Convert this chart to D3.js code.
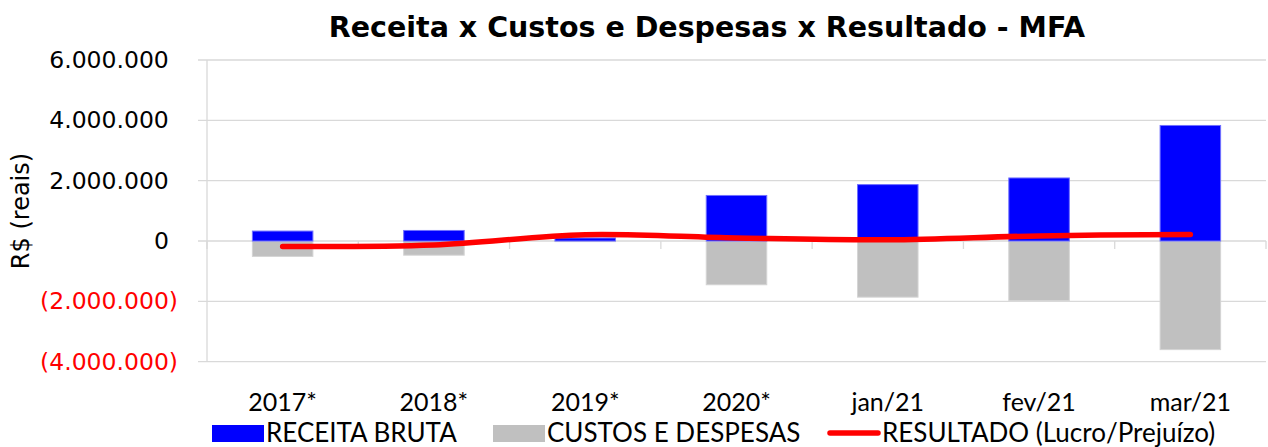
<!DOCTYPE html>
<html>
<head>
<meta charset="utf-8">
<script src="https://cdn.jsdelivr.net/npm/d3@7"></script>
<style>
  body { margin: 0; background: #fff; }
  svg { display: block; }
</style>
</head>
<body>
<script>
// values (R$)
var categories = ["2017*", "2018*", "2019*", "2020*", "jan/21", "fev/21", "mar/21"];
var receita = [330000, 350000, 100000, 1510000, 1870000, 2090000, 3830000];
var custos = [-510000, -470000, -20000, -1450000, -1860000, -1970000, -3600000];
var resultado = [-180000, -130000, 210000, 100000, 40000, 170000, 220000];
var yTicks = [-4000000, -2000000, 0, 2000000, 4000000, 6000000];

var W = 1268, H = 447;
var svg = d3.select("body").append("svg")
  .attr("width", W)
  .attr("height", H);

var xScale = d3.scaleBand()
  .domain(categories)
  .range([207, 1266])
  .padding(0);

var yScale = d3.scaleLinear()
  .domain([-4000000, 6000000])
  .range([361.7, 60]);

var bw = xScale.bandwidth();
var barW = bw * 0.4;

// format like Excel: 6.000.000 / (2.000.000)
function fmt(v) {
  var s = d3.format(",")(Math.abs(v)).replace(/,/g, ".");
  return s;
}

// gridlines
svg.append("g").selectAll("line")
  .data(yTicks)
  .enter().append("line")
  .attr("x1", 198)
  .attr("x2", 1266)
  .attr("y1", function(d) { return yScale(d); })
  .attr("y2", function(d) { return yScale(d); })
  .attr("stroke", "#d9d9d9")
  .attr("stroke-width", 1.3);

// vertical axis line
svg.append("line")
  .attr("x1", 207).attr("x2", 207)
  .attr("y1", yScale(6000000)).attr("y2", yScale(-4000000))
  .attr("stroke", "#d9d9d9")
  .attr("stroke-width", 1.3);

// category boundary ticks on the zero line
var bounds = categories.map(function(c) { return xScale(c); }).concat([xScale.range()[1]]);
svg.append("g").selectAll("line")
  .data(bounds)
  .enter().append("line")
  .attr("x1", function(d) { return d; })
  .attr("x2", function(d) { return d; })
  .attr("y1", yScale(0))
  .attr("y2", yScale(0) + 8)
  .attr("stroke", "#d9d9d9")
  .attr("stroke-width", 1.3);

// y tick labels
var yLab = svg.append("g").selectAll("text")
  .data(yTicks)
  .enter().append("text")
  .attr("x", 178)
  .attr("y", function(d) { return yScale(d) + 8; })
  .attr("text-anchor", "end")
  .attr("font-family", "DejaVu Sans")
  .attr("font-size", 23.5)
  .attr("fill", function(d) { return d < 0 ? "#ff0000" : "#000"; });
yLab.each(function(d) {
  var t = d3.select(this);
  if (d < 0) {
    t.text("(" + fmt(d) + ")");
  } else {
    t.append("tspan").text(fmt(d));
    t.append("tspan").attr("fill-opacity", 0).text(")");
  }
});

// y axis title
svg.append("text")
  .attr("transform", "translate(29,211) rotate(-90)")
  .attr("text-anchor", "middle")
  .attr("font-family", "DejaVu Sans")
  .attr("font-size", 24)
  .text("R$ (reais)");

// title
svg.append("text")
  .attr("x", 707)
  .attr("y", 37)
  .attr("text-anchor", "middle")
  .attr("font-family", "DejaVu Sans")
  .attr("font-weight", "bold")
  .attr("font-size", 28.5)
  .text("Receita x Custos e Despesas x Resultado - MFA");

// bars
svg.append("g").selectAll("rect")
  .data(custos)
  .enter().append("rect")
  .attr("x", function(d, i) { return xScale(categories[i]) + (bw - barW) / 2; })
  .attr("y", yScale(0))
  .attr("width", barW)
  .attr("height", function(d) { return yScale(d) - yScale(0); })
  .attr("fill", "#c0c0c0")
  .attr("stroke", "#d4d4d4")
  .attr("stroke-width", 1);

svg.append("g").selectAll("rect")
  .data(receita)
  .enter().append("rect")
  .attr("x", function(d, i) { return xScale(categories[i]) + (bw - barW) / 2; })
  .attr("y", function(d) { return yScale(d); })
  .attr("width", barW)
  .attr("height", function(d) { return yScale(0) - yScale(d); })
  .attr("fill", "#0000ff")
  .attr("stroke", "#7070ff")
  .attr("stroke-width", 1);

// result line
var line = d3.line()
  .x(function(d, i) { return xScale(categories[i]) + bw / 2; })
  .y(function(d) { return yScale(d); })
  .curve(d3.curveCatmullRom.alpha(0.5));

svg.append("path")
  .datum(resultado)
  .attr("d", line)
  .attr("fill", "none")
  .attr("stroke", "#ff0000")
  .attr("stroke-width", 5.5)
  .attr("stroke-linecap", "round")
  .attr("stroke-linejoin", "round");

// x labels
svg.append("g").selectAll("text")
  .data(categories)
  .enter().append("text")
  .attr("x", function(d) { return xScale(d) + bw / 2; })
  .attr("y", 411)
  .attr("text-anchor", "middle")
  .attr("font-family", "Lato")
  .attr("font-size", 25)
  .text(function(d) { return d; });

// legend
var legend = [
  {name: "RECEITA BRUTA", type: "rect", color: "#0000ff", x: 212},
  {name: "CUSTOS E DESPESAS", type: "rect", color: "#c0c0c0", x: 493},
  {name: "RESULTADO (Lucro/Prejuízo)", type: "line", color: "#ff0000", x: 828}
];
var lg = svg.append("g").selectAll("g")
  .data(legend)
  .enter().append("g");
lg.each(function(d) {
  var g = d3.select(this);
  if (d.type === "rect") {
    g.append("rect")
      .attr("x", d.x).attr("y", 425)
      .attr("width", 52).attr("height", 17)
      .attr("fill", d.color);
  } else {
    g.append("line")
      .attr("x1", d.x + 2).attr("x2", d.x + 50)
      .attr("y1", 433).attr("y2", 433)
      .attr("stroke", d.color)
      .attr("stroke-width", 5.5)
      .attr("stroke-linecap", "round");
  }
  g.append("text")
    .attr("x", d.x + 54)
    .attr("y", 442)
    .attr("font-family", "Lato")
    .attr("font-size", 26)
    .text(d.name);
});
</script>
</body>
</html>
